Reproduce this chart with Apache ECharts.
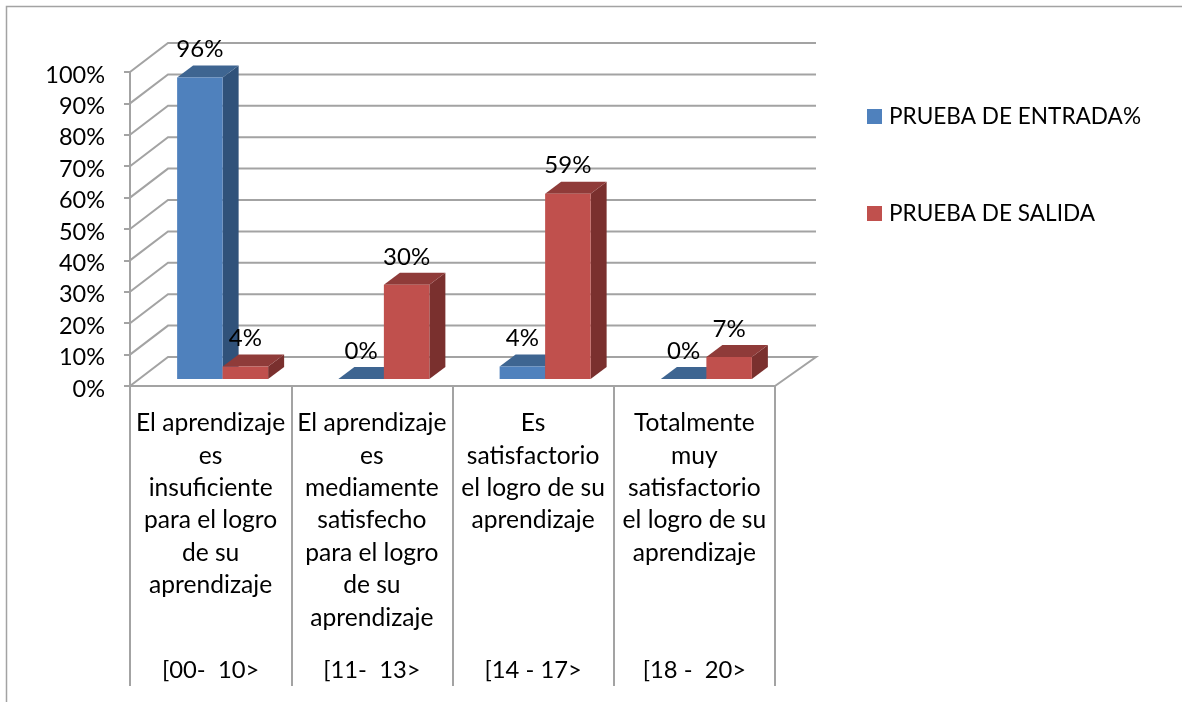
<!DOCTYPE html>
<html><head><meta charset="utf-8">
<style>html,body{margin:0;padding:0;background:#fff}#c{width:1182px;height:702px}</style>
<script src="https://cdn.jsdelivr.net/npm/echarts@6/dist/echarts.min.js"></script>
</head><body><div id="c"></div>
<script>
const categories = [
  'El aprendizaje\nes\ninsuficiente\npara el logro\nde su\naprendizaje',
  'El aprendizaje\nes\nmediamente\nsatisfecho\npara el logro\nde su\naprendizaje',
  'Es\nsatisfactorio\nel logro de su\naprendizaje',
  'Totalmente\nmuy\nsatisfactorio\nel logro de su\naprendizaje'
];
const ranges = ['[00-  10>', '[11-  13>', '[14 - 17>', '[18 -  20>'];
const entrada = [96, 0, 4, 0];
const salida = [4, 30, 59, 7];
const yTicks = [0, 10, 20, 30, 40, 50, 60, 70, 80, 90, 100];

const FONT = 'Lato';
const GRAY = '#a3a3a3';

function toPairs(arr) { return arr.map((v, i) => [i, v]); }

function wall(params, api) {
  const cs = params.coordSys;
  const y = api.coord([0, api.value(1)])[1];
  const L = cs.x, R = cs.x + cs.width;
  const pts = [[L, y], [L + 38, y - 29], [R + 41, y - 29]];
  if (api.value(1) === 0) pts.push([R, y]);
  return { type: 'polyline', shape: { points: pts }, style: { stroke: GRAY, lineWidth: 2, fill: null } };
}

function barRenderer(side, top, sideFace) {
  return function (params, api) {
    const cat = api.value(0), v = api.value(1);
    const base = api.coord([cat, 0]), head = api.coord([cat, v]);
    const w = 45.5, dx = 16, dy = -12;
    const x0 = base[0] + 12 + (side < 0 ? -w : 0), x1 = x0 + w;
    const yb = base[1] - 7, yt = head[1] - 7;
    const poly = (points, fill) => ({ type: 'polygon', shape: { points }, style: { fill, stroke: null } });
    return {
      type: 'group',
      children: [
        poly([[x1, yb], [x1 + dx, yb + dy], [x1 + dx, yt + dy], [x1, yt]], sideFace),
        poly([[x0, yt], [x0 + dx, yt + dy], [x1 + dx, yt + dy], [x1, yt]], top),
        { type: 'rect', shape: { x: x0, y: yt, width: w, height: yb - yt }, style: { fill: api.visual('color') } },
        { type: 'text', style: { x: (x0 + x1) / 2, y: yt - 28, text: v + '%', fill: '#000', font: '24px ' + FONT, textAlign: 'center', textVerticalAlign: 'middle' } }
      ]
    };
  };
}

const chart = echarts.init(document.getElementById('c'), null, { renderer: 'canvas', width: 1182, height: 702 });
chart.setOption({
  animation: false,
  backgroundColor: '#fff',
  textStyle: { fontFamily: FONT },
  graphic: [
    { type: 'polyline', silent: true, shape: { points: [[6.5, 702], [6.5, 6.5], [1182, 6.5]] }, style: { stroke: '#a3a3a3', lineWidth: 1.5, fill: null } }
  ],
  legend: {
    orient: 'vertical', left: 867, top: 105, padding: 0,
    itemWidth: 15, itemHeight: 15, itemGap: 74, icon: 'rect',
    data: ['PRUEBA DE ENTRADA%', 'PRUEBA DE SALIDA'],
    textStyle: { fontFamily: FONT, fontSize: 22.6, color: '#000', padding: [0, 0, 0, 2] },
    selectedMode: false
  },
  grid: { left: 130, top: 72, width: 645, height: 314, containLabel: false },
  xAxis: [
    {
      type: 'category', data: categories, position: 'bottom',
      axisLine: { lineStyle: { color: GRAY, width: 2 } },
      axisTick: { show: true, length: 300, lineStyle: { color: GRAY, width: 2 } },
      axisLabel: { interval: 0, margin: 21, fontFamily: FONT, fontSize: 24.6, lineHeight: 32.4, color: '#000', align: 'center' }
    },
    {
      type: 'category', data: ranges, position: 'bottom', offset: 268,
      axisLine: { show: false }, axisTick: { show: false },
      axisLabel: { interval: 0, margin: 0, fontFamily: FONT, fontSize: 23.8, lineHeight: 32.4, color: '#000' }
    }
  ],
  yAxis: {
    type: 'value', min: 0, max: 100, interval: 10,
    axisLine: { show: true, lineStyle: { color: GRAY, width: 2 } },
    axisTick: { show: true, length: 6, lineStyle: { color: GRAY, width: 2 } },
    splitLine: { show: false },
    axisLabel: { formatter: '{value}%', margin: 25, fontFamily: FONT, fontSize: 23.5, color: '#000', verticalAlign: 'top', lineHeight: 6 }
  },
  series: [
    { type: 'custom', name: 'wall', silent: true, xAxisIndex: 0, renderItem: wall, data: yTicks.map(v => [0, v]), z: 1 },
    { type: 'custom', name: 'PRUEBA DE ENTRADA%', xAxisIndex: 0, renderItem: barRenderer(-1, '#3E6591', '#30527A'),
      itemStyle: { color: '#4F81BD' }, data: toPairs(entrada), z: 2 },
    { type: 'custom', name: 'PRUEBA DE SALIDA', xAxisIndex: 0, renderItem: barRenderer(1, '#8F3B39', '#7A302E'),
      itemStyle: { color: '#C0504D' }, data: toPairs(salida), z: 3 }
  ]
});
</script></body></html>
